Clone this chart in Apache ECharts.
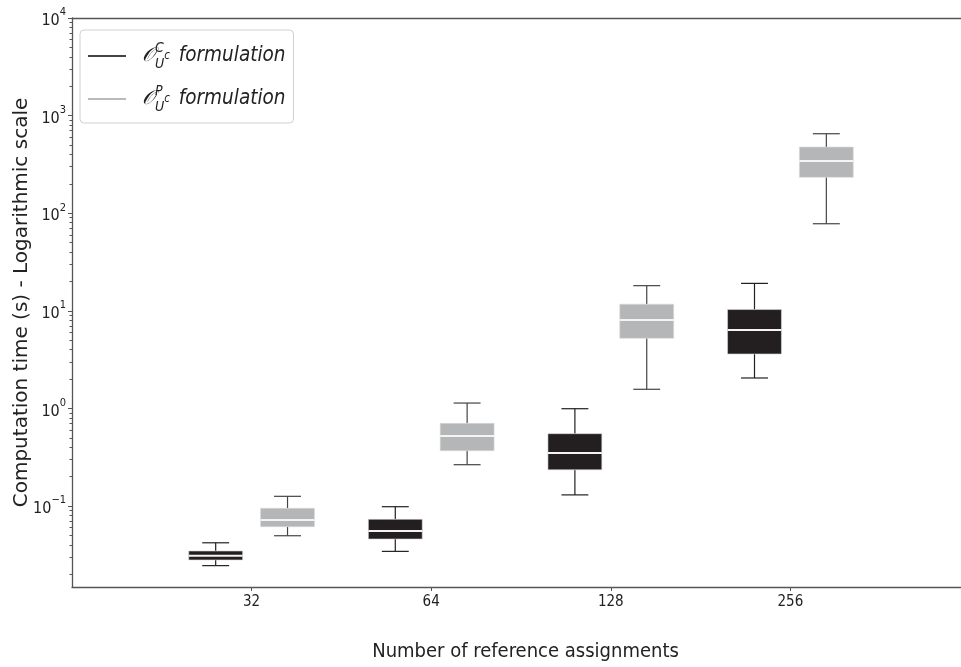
<!DOCTYPE html>
<html>
<head>
<meta charset="utf-8">
<script src="https://cdn.jsdelivr.net/npm/echarts@6/dist/echarts.min.js"></script>
<style>
html,body{margin:0;padding:0;background:#fff;}
#chart{width:961px;height:667px;}
</style>
</head>
<body>
<div id="chart"></div>
<script>
// ---- data ----
const categories = ['32', '64', '128', '256'];
// each row: [whisker low, Q1, median, Q3, whisker high]
const statsC = [
  [0.0245, 0.028, 0.031, 0.0346, 0.042],
  [0.0343, 0.0459, 0.0554, 0.0731, 0.0984],
  [0.130, 0.235, 0.349, 0.551, 0.993],
  [2.05, 3.61, 6.36, 10.3, 19.1]
];
const statsP = [
  [0.0496, 0.0614, 0.0719, 0.0947, 0.1257],
  [0.265, 0.369, 0.521, 0.703, 1.135],
  [1.57, 5.23, 8.05, 11.7, 18.1],
  [78, 233, 343, 476, 652]
];
const yMajorTicks = [0.1, 1, 10, 100, 1000, 10000];
const yMinorTicks = [];
[0.01, 0.1, 1, 10, 100, 1000].forEach(function (d) {
  for (let k = 2; k <= 9; k++) yMinorTicks.push(+(d * k).toPrecision(3));
});
const seriesNames = ['C', 'P'];

// ---- build ----
const catPositions = categories.map(function (c, i) { return i + 1; });
function rows(stats) {
  return stats.map(function (s, i) { return [catPositions[i]].concat(s); });
}

function makeRender(offset, fill, whiskerColor) {
  return function (params, api) {
    const x = api.value(0) + offset;
    const lo = api.value(1), q1 = api.value(2), med = api.value(3), q3 = api.value(4), hi = api.value(5);
    const halfBox = 0.15, halfCap = 0.075;
    const pLo = api.coord([x, lo]), pHi = api.coord([x, hi]);
    const pQ1 = api.coord([x, q1]), pQ3 = api.coord([x, q3]), pMed = api.coord([x, med]);
    const xl = api.coord([x - halfBox, med])[0], xr = api.coord([x + halfBox, med])[0];
    const cl = api.coord([x - halfCap, med])[0], cr = api.coord([x + halfCap, med])[0];
    const lineStyle = { stroke: whiskerColor, lineWidth: 1.2 };
    return {
      type: 'group',
      children: [
        { type: 'line', shape: { x1: pHi[0], y1: pHi[1], x2: pQ3[0], y2: pQ3[1] }, style: lineStyle },
        { type: 'line', shape: { x1: pLo[0], y1: pLo[1], x2: pQ1[0], y2: pQ1[1] }, style: lineStyle },
        { type: 'line', shape: { x1: cl, y1: pHi[1], x2: cr, y2: pHi[1] }, style: lineStyle },
        { type: 'line', shape: { x1: cl, y1: pLo[1], x2: cr, y2: pLo[1] }, style: lineStyle },
        { type: 'rect', shape: { x: xl, y: pQ3[1], width: xr - xl, height: pQ1[1] - pQ3[1] },
          style: { fill: fill, stroke: '#d8d8d8', lineWidth: 0.6 } },
        { type: 'line', shape: { x1: xl, y1: pMed[1], x2: xr, y2: pMed[1] },
          style: { stroke: '#f4f4f4', lineWidth: 2 } }
      ]
    };
  };
}

const chart = echarts.init(document.getElementById('chart'), null, { renderer: 'canvas' });
const condensed = "'DejaVu Sans Condensed', 'DejaVu Sans', sans-serif";
const regular = "'DejaVu Sans', sans-serif";
const LH = 30;
const legendRich = {
  o: { fontFamily: regular, fontStyle: 'italic', fontSize: 20, color: '#222', verticalAlign: 'middle', lineHeight: LH, padding: [0, 0, 0, 11] },
  sup: { fontFamily: condensed, fontStyle: 'italic', fontSize: 14, color: '#222', verticalAlign: 'top', lineHeight: 12, width: 0 },
  sub: { fontFamily: condensed, fontStyle: 'italic', fontSize: 14, color: '#222', verticalAlign: 'bottom', lineHeight: 22 },
  subsup: { fontFamily: condensed, fontStyle: 'italic', fontSize: 11.5, color: '#222', verticalAlign: 'middle', lineHeight: 14 },
  t: { fontFamily: condensed, fontStyle: 'italic', fontSize: 20.5, color: '#222', verticalAlign: 'middle', lineHeight: LH, padding: [0, 0, 0, 3] }
};

chart.setOption({
  backgroundColor: '#fff',
  animation: false,
  grid: { left: 72, top: 18, right: -18, bottom: 80, containLabel: false, outerBoundsMode: 'none' },
  legend: {
    left: 80, top: 30,
    orient: 'vertical',
    data: [{ name: seriesNames[0], icon: 'rect' }, { name: seriesNames[1], icon: 'rect' }],
    itemWidth: 38, itemHeight: 1.8, itemGap: 13,
    padding: [11, 8, 9, 8],
    borderColor: '#d0d0d0', borderWidth: 1, borderRadius: 4,
    backgroundColor: '#fff',
    formatter: function (n) {
      return '{o|\uD835\uDCAA}{sup|' + n + '}{sub|U}{subsup|c}{t| formulation}';
    },
    textStyle: { rich: legendRich }
  },
  xAxis: [{
    type: 'value', min: 0, max: 5.05, position: 'bottom',
    name: 'Number of reference assignments', nameLocation: 'middle', nameGap: 55, nameMoveOverlap: false,
    nameTextStyle: { fontFamily: condensed, fontSize: 20, color: '#222' },
    axisLine: { show: true, lineStyle: { color: '#555', width: 1.3 } },
    axisTick: { show: true, customValues: catPositions, length: 4, inside: false, lineStyle: { color: '#555' } },
    axisLabel: { customValues: catPositions, formatter: function (v) { return categories[Math.round(v) - 1] || ''; },
      fontFamily: condensed, fontSize: 15, color: '#222', margin: 8 },
    splitLine: { show: false }
  }, {
    type: 'value', min: 0, max: 5.05, position: 'top',
    axisLine: { show: true, onZero: false, lineStyle: { color: '#555', width: 1.3 } },
    axisTick: { show: false }, axisLabel: { show: false }, splitLine: { show: false }
  }],
  yAxis: [{
    type: 'log', logBase: 10, min: 0.0148, max: 10000,
    name: 'Computation time (s) - Logarithmic scale', nameLocation: 'middle', nameGap: 40, nameMoveOverlap: false,
    nameTextStyle: { fontFamily: regular, fontSize: 20, color: '#222' },
    axisLine: { show: true, lineStyle: { color: '#555', width: 1.3 } },
    axisTick: { show: true, customValues: yMajorTicks, length: 4, lineStyle: { color: '#555' } },
    axisLabel: {
      customValues: yMajorTicks,
      formatter: function (v) {
        const e = Math.round(Math.log10(v));
        return '{b|10}{s|' + (e < 0 ? '\u2212' + (-e) : e) + '}';
      },
      margin: 6,
      rich: {
        b: { fontFamily: condensed, fontSize: 16, color: '#222', verticalAlign: 'bottom', lineHeight: 22 },
        s: { fontFamily: condensed, fontSize: 11, color: '#222', verticalAlign: 'top', lineHeight: 22 }
      }
    },
    splitLine: { show: false }
  }, {
    type: 'log', logBase: 10, min: 0.0148, max: 10000, position: 'left', offset: 0,
    axisLine: { show: false },
    axisTick: { show: true, customValues: yMinorTicks, length: 2.5, lineStyle: { color: '#555' } },
    axisLabel: { show: false }, splitLine: { show: false }
  }],
  series: [{
    name: seriesNames[0], type: 'custom',
    itemStyle: { color: '#444444' },
    renderItem: makeRender(-0.2, '#231f20', '#231f20'),
    encode: { x: 0, y: [1, 2, 3, 4, 5] },
    data: rows(statsC), clip: false
  }, {
    name: seriesNames[1], type: 'custom',
    itemStyle: { color: '#b8b9bb' },
    renderItem: makeRender(0.2, '#b5b6b8', '#444444'),
    encode: { x: 0, y: [1, 2, 3, 4, 5] },
    data: rows(statsP), clip: false
  }]
});
</script>
</body>
</html>
